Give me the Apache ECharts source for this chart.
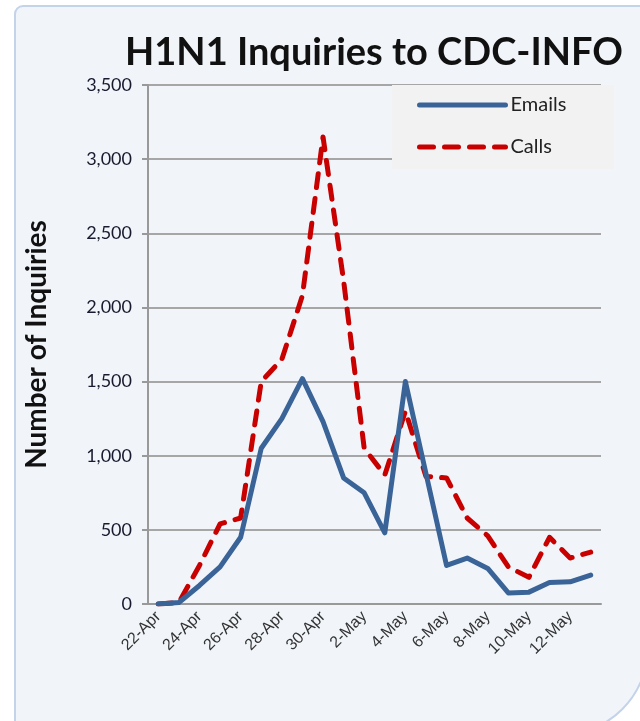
<!DOCTYPE html>
<html>
<head>
<meta charset="utf-8">
<script src="https://cdn.jsdelivr.net/npm/echarts@6/dist/echarts.min.js"></script>
<style>
  html, body { margin: 0; padding: 0; background: #fff; }
  #chart { width: 640px; height: 721px; }
</style>
</head>
<body>
<div id="chart"></div>
<script>
const days = ['22-Apr', '23-Apr', '24-Apr', '25-Apr', '26-Apr', '27-Apr', '28-Apr', '29-Apr', '30-Apr',
  '1-May', '2-May', '3-May', '4-May', '5-May', '6-May', '7-May', '8-May', '9-May', '10-May', '11-May', '12-May', '13-May']
const emails = [0, 10, 125, 250, 450, 1050, 1250, 1520, 1230, 850, 750, 480, 1500, 880, 260, 310, 240, 75, 80, 145, 150, 195]
const calls = [0, 10, 260, 540, 580, 1500, 1650, 2080, 3150, 2180, 1050, 870, 1300, 860, 850, 580, 460, 250, 180, 450, 310, 350]

const calibri = 'Lato, "Open Sans", sans-serif'

const chart = echarts.init(document.getElementById('chart'))
chart.setOption({
  backgroundColor: '#ffffff',
  animation: false,
  graphic: [
    {
      type: 'rect',
      z: -10,
      shape: { x: 15, y: 6, width: 633, height: 729, r: [8, 0, 88, 0] },
      style: { fill: '#f1f5fa', stroke: '#c3d3ea', lineWidth: 2 }
    }
  ],
  title: {
    text: 'H1N1 Inquiries to CDC-INFO',
    left: 369,
    top: 29,
    textAlign: 'center',
    textStyle: { fontFamily: calibri, fontSize: 38, fontWeight: 'bold', color: '#111' }
  },
  legend: {
    orient: 'vertical',
    left: 392,
    top: 85,
    backgroundColor: '#f2f2f2',
    padding: [10, 48, 12, 25],
    itemWidth: 86,
    itemHeight: 18,
    itemGap: 22,
    itemStyle: { opacity: 0 },
    lineStyle: { width: 5 },
    textStyle: { fontFamily: calibri, fontSize: 20, color: '#222' },
    data: ['Emails', 'Calls']
  },
  grid: { left: 148, right: 39, top: 85, bottom: 117 },
  xAxis: {
    type: 'category',
    data: days,
    boundaryGap: true,
    axisLine: { lineStyle: { color: '#999', width: 2 } },
    axisTick: { interval: 1, length: 6, lineStyle: { color: '#999', width: 2 } },
    axisLabel: {
      interval: 1,
      rotate: 45,
      margin: 10,
      fontFamily: '"Liberation Sans", Arial, sans-serif',
      fontSize: 16,
      color: '#333'
    }
  },
  yAxis: {
    type: 'value',
    min: 0,
    max: 3500,
    interval: 500,
    name: 'Number of Inquiries',
    nameLocation: 'middle',
    nameGap: 97,
    nameTextStyle: { fontFamily: calibri, fontSize: 28, fontWeight: 'bold', color: '#111' },
    axisLine: { show: true, lineStyle: { color: '#999', width: 2 } },
    axisTick: { show: true, length: 6, lineStyle: { color: '#999', width: 2 } },
    splitLine: { lineStyle: { color: '#a6a6a6', width: 2 } },
    axisLabel: {
      margin: 16,
      fontFamily: calibri,
      fontSize: 18,
      color: '#1a1a2e',
      formatter: v => v.toLocaleString('en-US')
    }
  },
  series: [
    {
      name: 'Emails',
      type: 'line',
      data: emails,
      symbol: 'none',
      z: 3,
      lineStyle: { color: '#3a6497', width: 5, join: 'round', cap: 'round' },
      itemStyle: { color: '#3a6497' }
    },
    {
      name: 'Calls',
      type: 'line',
      data: calls,
      symbol: 'none',
      z: 2,
      lineStyle: { color: '#c80000', width: 5, type: [14, 11], cap: 'round', join: 'round' },
      itemStyle: { color: '#c80000' }
    }
  ]
})
</script>
</body>
</html>
